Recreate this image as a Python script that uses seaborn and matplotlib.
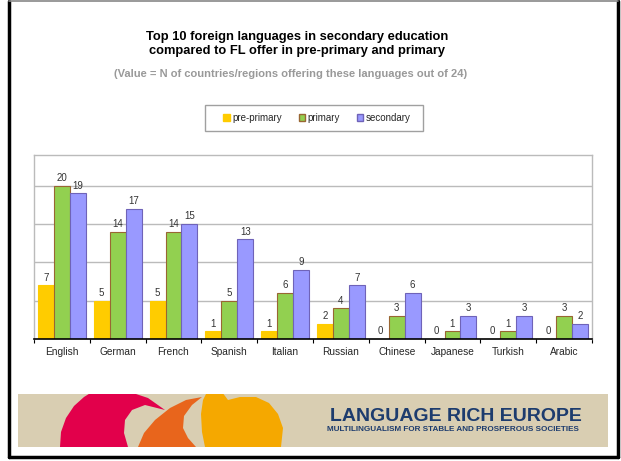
import numpy as np
import pandas as pd
import matplotlib
matplotlib.use("Agg")
import matplotlib.pyplot as plt
import seaborn as sns
from matplotlib.patches import Rectangle, Polygon, Patch

# Data
languages = ["English", "German", "French", "Spanish", "Italian",
             "Russian", "Chinese", "Japanese", "Turkish", "Arabic"]
pre_primary = [7, 5, 5, 1, 1, 2, 0, 0, 0, 0]
primary = [20, 14, 14, 5, 6, 4, 3, 1, 1, 3]
secondary = [19, 17, 15, 13, 9, 7, 6, 3, 3, 2]
levels = ["pre-primary", "primary", "secondary"]

title = "Top 10 foreign languages in secondary education\ncompared to FL offer in pre-primary and primary"
subtitle = "(Value = N of countries/regions offering these languages out of 24)"

df = pd.DataFrame({
    "language": languages * 3,
    "level": [levels[0]] * 10 + [levels[1]] * 10 + [levels[2]] * 10,
    "value": pre_primary + primary + secondary,
})

fill = {"pre-primary": "#FFCC00", "primary": "#92D050", "secondary": "#9999FF"}
edge = {"pre-primary": "#FFCC00", "primary": "#996633", "secondary": "#6F63B8"}

sns.set_style("white")
plt.rcParams["font.family"] = ["Liberation Sans", "DejaVu Sans"]

W, H = 621, 461
fig = plt.figure(figsize=(W / 100, H / 100), dpi=100)

# background layer in pixel coordinates (slide frame, titles, banner)
bg = fig.add_axes([0, 0, 1, 1])
bg.set_xlim(0, W)
bg.set_ylim(H, 0)
bg.axis("off")

# slide frame
bg.plot([8.5, 8.5], [1.5, 456.5], color="black", lw=2.5)
bg.plot([8.5, 617.5], [456.5, 456.5], color="black", lw=2.5)
bg.plot([617.5, 617.5], [1.5, 456.5], color="black", lw=2.5)
bg.plot([8.5, 617.5], [1.5, 1.5], color="#888888", lw=1.2)

bg.text(297, 44, title, ha="center", va="center", fontsize=9.3,
        fontweight="bold", color="black", linespacing=1.2)
bg.text(291, 74, subtitle, ha="center", va="center", fontsize=8,
        fontweight="bold", color="#999999")

# legend frame drawn by hand (box is wider than its content)
bg.add_patch(Rectangle((205, 105), 218, 26, facecolor="white",
                       edgecolor="#A0A0A0", lw=1))

# banner at the bottom
banner = Rectangle((18, 394), 590, 53, facecolor="#D9CEB2", edgecolor="none")
bg.add_patch(banner)
red = Polygon([[60, 447], [61, 432], [66, 418], [74, 406], [84, 397], [92, 392],
               [130, 392], [148, 398], [165, 410], [145, 405], [132, 410],
               [125, 420], [124, 433], [128, 447]],
              facecolor="#E2004B", edgecolor="none")
orange = Polygon([[138, 447], [144, 433], [155, 420], [170, 408], [186, 400],
                  [202, 397], [192, 405], [184, 416], [183, 428], [188, 438],
                  [196, 447]], facecolor="#E8651C", edgecolor="none")
yellow = Polygon([[205, 447], [202, 432], [201, 414], [203, 400], [207, 392],
                  [222, 392], [228, 400], [240, 397], [256, 397], [269, 403],
                  [278, 414], [283, 428], [281, 447]],
                 facecolor="#F5A800", edgecolor="none")
for s in [red, orange, yellow]:
    bg.add_patch(s)
    s.set_clip_path(banner)
bg.text(456, 416, "LANGUAGE RICH EUROPE", ha="center", va="center",
        fontsize=14, fontweight="bold", color="#1D3C6E")
bg.text(453, 429, "MULTILINGUALISM FOR STABLE AND PROSPEROUS SOCIETIES",
        ha="center", va="center", fontsize=5.9, fontweight="bold", color="#1D3C6E")

# chart area
ax = fig.add_axes([34 / W, 1 - 339 / H, 558 / W, 184 / H])
ax.set_facecolor("white")
sns.barplot(data=df, x="language", y="value", hue="level", order=languages,
            hue_order=levels, palette=fill, width=0.86, saturation=1,
            legend=False, ax=ax)

for lev, cont in zip(levels, ax.containers):
    for bar in cont:
        bar.set_edgecolor(edge[lev])
        bar.set_linewidth(0.8)
    ax.bar_label(cont, padding=2, fontsize=7, color="#333333")

ax.set_ylim(0, 24)
ax.set_xlim(-0.5, 9.5)
ax.set_yticks([5, 10, 15, 20])
ax.set_yticklabels([])
ax.yaxis.grid(True, color="#BBBBBB", lw=1)
ax.set_axisbelow(True)
ax.tick_params(axis="y", length=0)
ax.set_xticks(np.arange(-0.5, 10, 1), minor=True)
ax.tick_params(axis="x", which="major", length=0, labelsize=7.3, pad=6)
ax.tick_params(axis="x", which="minor", length=3, width=0.8, color="black",
               direction="out", bottom=True)
ax.set_xlabel("")
ax.set_ylabel("")
for side in ["top", "left", "right"]:
    ax.spines[side].set_color("#BBBBBB")
    ax.spines[side].set_linewidth(1)
ax.spines["bottom"].set_color("black")
ax.spines["bottom"].set_linewidth(1.2)

handles = [Patch(facecolor=fill[l], edgecolor=edge[l], label=l) for l in levels]
leg = fig.legend(handles=handles, loc="center", bbox_to_anchor=(317 / W, 1 - 118 / H),
                 ncol=3, fontsize=7, frameon=False,
                 handlelength=0.65, handleheight=0.65, handletextpad=0.25,
                 columnspacing=1.75, borderpad=0.3)

fig.savefig("out.png", dpi=100)
